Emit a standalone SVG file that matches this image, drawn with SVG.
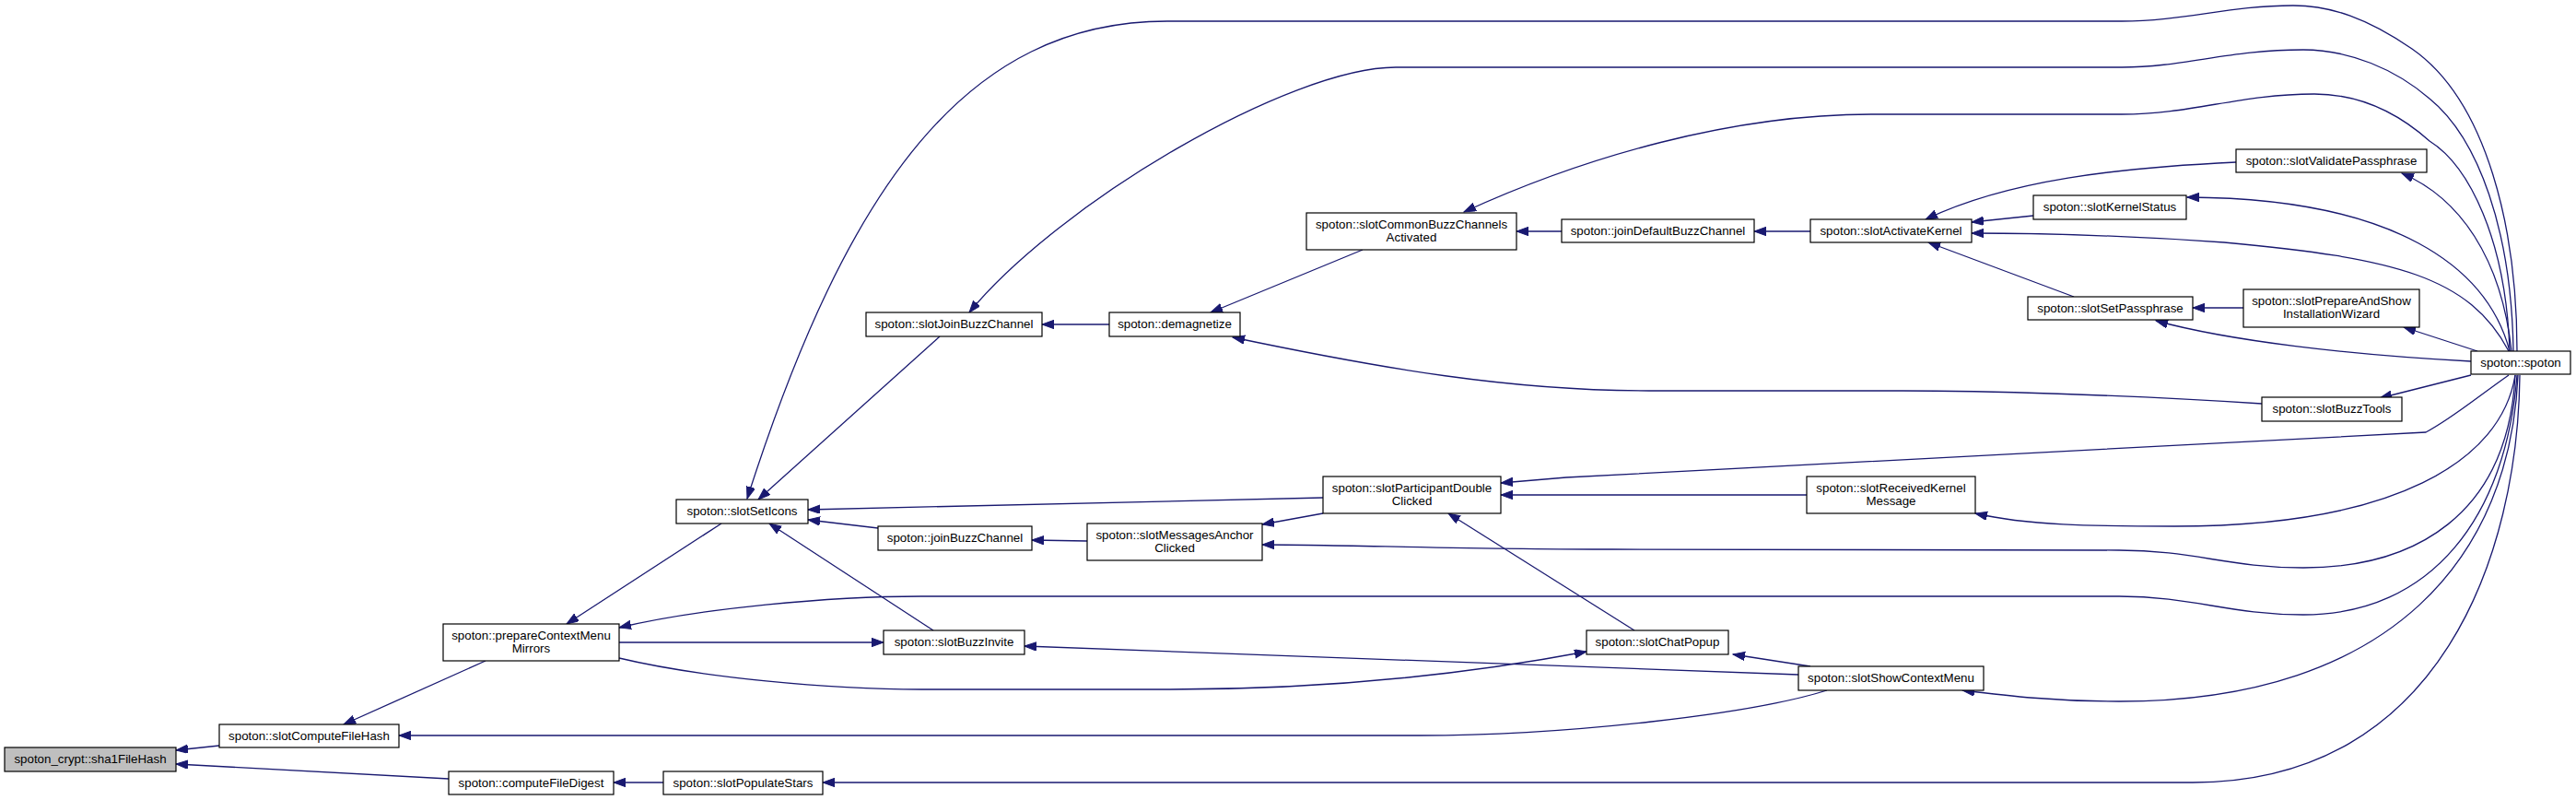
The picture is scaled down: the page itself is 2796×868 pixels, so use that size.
<svg xmlns="http://www.w3.org/2000/svg" width="2796" height="868" viewBox="0 0 2796 868">
<defs>
<marker id="ah" markerUnits="userSpaceOnUse" markerWidth="14" markerHeight="10" refX="13" refY="4.7" orient="auto">
<path d="M0,0 L13,4.7 L0,9.4 z" fill="#191970" stroke="#191970" stroke-width="1"/>
</marker>
</defs>
<style>
.n rect{fill:#ffffff;stroke:#000000;stroke-width:1.2}
.n.m rect{fill:#bfbfbf}
.n text{font-family:"Liberation Sans",Arial,Helvetica,sans-serif;font-size:13.33px;text-anchor:middle;fill:#000000}
.e path{fill:none;stroke:#191970;stroke-width:1.3;marker-end:url(#ah)}
</style>
<rect x="0" y="0" width="2796" height="868" fill="#ffffff"/>
<g id="edges" class="e">
<path d="M238,809 L191,814"/>
<path d="M487,845 L191,829"/>
<path d="M527,717 L373,786"/>
<path d="M1983,749 C1900,775 1700,798 1540,798 L433,798"/>
<path d="M720,849 L666,849"/>
<path d="M2735,407 C2733,600 2650,849 2380,849 L893,849"/>
<path d="M783,568 L615,677"/>
<path d="M2732,407 C2720,560 2640,667 2500,667 C2420,667 2380,647 2300,647 L1000,647 C900,647 760,660 672,681"/>
<path d="M672,697 L959,697"/>
<path d="M672,714 C760,735 900,748 1000,748 L1270,748 C1450,748 1600,730 1722,707"/>
<path d="M1013,684 L835,568"/>
<path d="M953,573 L877,564"/>
<path d="M1436,540 L877,553"/>
<path d="M1020,365 L823,542"/>
<path d="M2732,381 C2732,250 2700,110 2618,53 C2570,20 2530,6 2489,6 C2420,6 2370,23 2303,23 L1267,23 C1050,23 920,200 811,541"/>
<path d="M1180,587 L1120,586"/>
<path d="M1436,557 L1370,569"/>
<path d="M2730,407 C2722,560 2620,616 2500,616 C2420,616 2380,597 2300,597 L1750,596 C1600,596 1450,591 1370,591"/>
<path d="M1961,537 L1629,537"/>
<path d="M1774,684 L1572,557"/>
<path d="M2723,407 C2690,430 2660,455 2633,469 L1700,518 Q1665,521 1629,524"/>
<path d="M2730,407 C2715,500 2600,571 2360,571 C2270,571 2200,570 2144,557"/>
<path d="M1965,723 L1881,710"/>
<path d="M1952,732 L1112,701"/>
<path d="M2733,407 C2725,600 2600,761 2300,761 C2230,761 2180,755 2130,749"/>
<path d="M1204,352 L1131,352"/>
<path d="M2728,381 C2726,250 2690,150 2637,107 C2600,75 2550,54 2500,54 C2420,54 2370,73 2303,73 L1515,73 C1400,73 1150,220 1052,339"/>
<path d="M1479,271 L1314,339"/>
<path d="M2455,438 C2300,428 2150,424 2065,424 L1790,424 C1640,424 1500,400 1338,366"/>
<path d="M1695,251 L1646,251"/>
<path d="M2724,381 C2720,260 2680,180 2637,153 C2600,120 2560,102 2512,102 C2430,102 2380,124 2303,124 L2031,124 C1880,124 1720,170 1589,230"/>
<path d="M1965,251 L1904,251"/>
<path d="M2427,176 C2300,182 2180,195 2090,238"/>
<path d="M2207,234 L2140,241"/>
<path d="M2723,381 C2680,300 2600,280 2414,263 C2300,255 2200,253 2140,253"/>
<path d="M2251,322 L2093,263"/>
<path d="M2435,334 L2380,334"/>
<path d="M2682,392 C2550,385 2420,370 2340,348"/>
<path d="M2689,381 L2609,355"/>
<path d="M2726,381 C2715,280 2670,215 2607,188"/>
<path d="M2724,381 C2700,290 2600,215 2374,214"/>
<path d="M2682,407 L2583,432"/>
</g>
<g id="n_sha1FileHash" class="n m"><rect x="5" y="811" width="186" height="26"/><text x="98" y="828">spoton_crypt::sha1FileHash</text></g>
<g id="n_slotComputeFileHash" class="n"><rect x="238" y="786" width="195" height="25"/><text x="335.5" y="803">spoton::slotComputeFileHash</text></g>
<g id="n_computeFileDigest" class="n"><rect x="487" y="837" width="179" height="25"/><text x="576.5" y="854">spoton::computeFileDigest</text></g>
<g id="n_prepareContextMenuMirrors" class="n"><rect x="481" y="677" width="191" height="40"/><text x="576.5" y="693.5">spoton::prepareContextMenu</text><text x="576.5" y="708">Mirrors</text></g>
<g id="n_slotPopulateStars" class="n"><rect x="720" y="837" width="173" height="25"/><text x="806.5" y="854">spoton::slotPopulateStars</text></g>
<g id="n_slotSetIcons" class="n"><rect x="734" y="542" width="143" height="26"/><text x="805.5" y="559">spoton::slotSetIcons</text></g>
<g id="n_slotBuzzInvite" class="n"><rect x="959" y="684" width="153" height="26"/><text x="1035.5" y="701">spoton::slotBuzzInvite</text></g>
<g id="n_joinBuzzChannel" class="n"><rect x="953" y="571" width="167" height="26"/><text x="1036.5" y="588">spoton::joinBuzzChannel</text></g>
<g id="n_slotJoinBuzzChannel" class="n"><rect x="940" y="339" width="191" height="26"/><text x="1035.5" y="356">spoton::slotJoinBuzzChannel</text></g>
<g id="n_demagnetize" class="n"><rect x="1204" y="339" width="142" height="26"/><text x="1275" y="356">spoton::demagnetize</text></g>
<g id="n_slotMessagesAnchorClicked" class="n"><rect x="1180" y="568" width="190" height="40"/><text x="1275" y="584.5">spoton::slotMessagesAnchor</text><text x="1275" y="599">Clicked</text></g>
<g id="n_slotParticipantDoubleClicked" class="n"><rect x="1436" y="517" width="193" height="40"/><text x="1532.5" y="533.5">spoton::slotParticipantDouble</text><text x="1532.5" y="548">Clicked</text></g>
<g id="n_slotChatPopup" class="n"><rect x="1722" y="684" width="154" height="26"/><text x="1799" y="701">spoton::slotChatPopup</text></g>
<g id="n_slotCommonBuzzChannelsActivated" class="n"><rect x="1418" y="231" width="228" height="40"/><text x="1532" y="247.5">spoton::slotCommonBuzzChannels</text><text x="1532" y="262">Activated</text></g>
<g id="n_joinDefaultBuzzChannel" class="n"><rect x="1695" y="238" width="209" height="25"/><text x="1799.5" y="255">spoton::joinDefaultBuzzChannel</text></g>
<g id="n_slotActivateKernel" class="n"><rect x="1965" y="238" width="175" height="25"/><text x="2052.5" y="255">spoton::slotActivateKernel</text></g>
<g id="n_slotReceivedKernelMessage" class="n"><rect x="1961" y="517" width="183" height="40"/><text x="2052.5" y="533.5">spoton::slotReceivedKernel</text><text x="2052.5" y="548">Message</text></g>
<g id="n_slotShowContextMenu" class="n"><rect x="1952" y="723" width="201" height="26"/><text x="2052.5" y="740">spoton::slotShowContextMenu</text></g>
<g id="n_slotValidatePassphrase" class="n"><rect x="2427" y="162" width="207" height="25"/><text x="2530.5" y="179">spoton::slotValidatePassphrase</text></g>
<g id="n_slotKernelStatus" class="n"><rect x="2207" y="212" width="166" height="26"/><text x="2290" y="229">spoton::slotKernelStatus</text></g>
<g id="n_slotSetPassphrase" class="n"><rect x="2201" y="322" width="179" height="25"/><text x="2290.5" y="339">spoton::slotSetPassphrase</text></g>
<g id="n_slotPrepareAndShowInstallationWizard" class="n"><rect x="2435" y="314" width="191" height="41"/><text x="2530.5" y="331">spoton::slotPrepareAndShow</text><text x="2530.5" y="345">InstallationWizard</text></g>
<g id="n_slotBuzzTools" class="n"><rect x="2455" y="431" width="152" height="26"/><text x="2531" y="448">spoton::slotBuzzTools</text></g>
<g id="n_spoton" class="n"><rect x="2682" y="381" width="108" height="25"/><text x="2736" y="398">spoton::spoton</text></g>
</svg>
